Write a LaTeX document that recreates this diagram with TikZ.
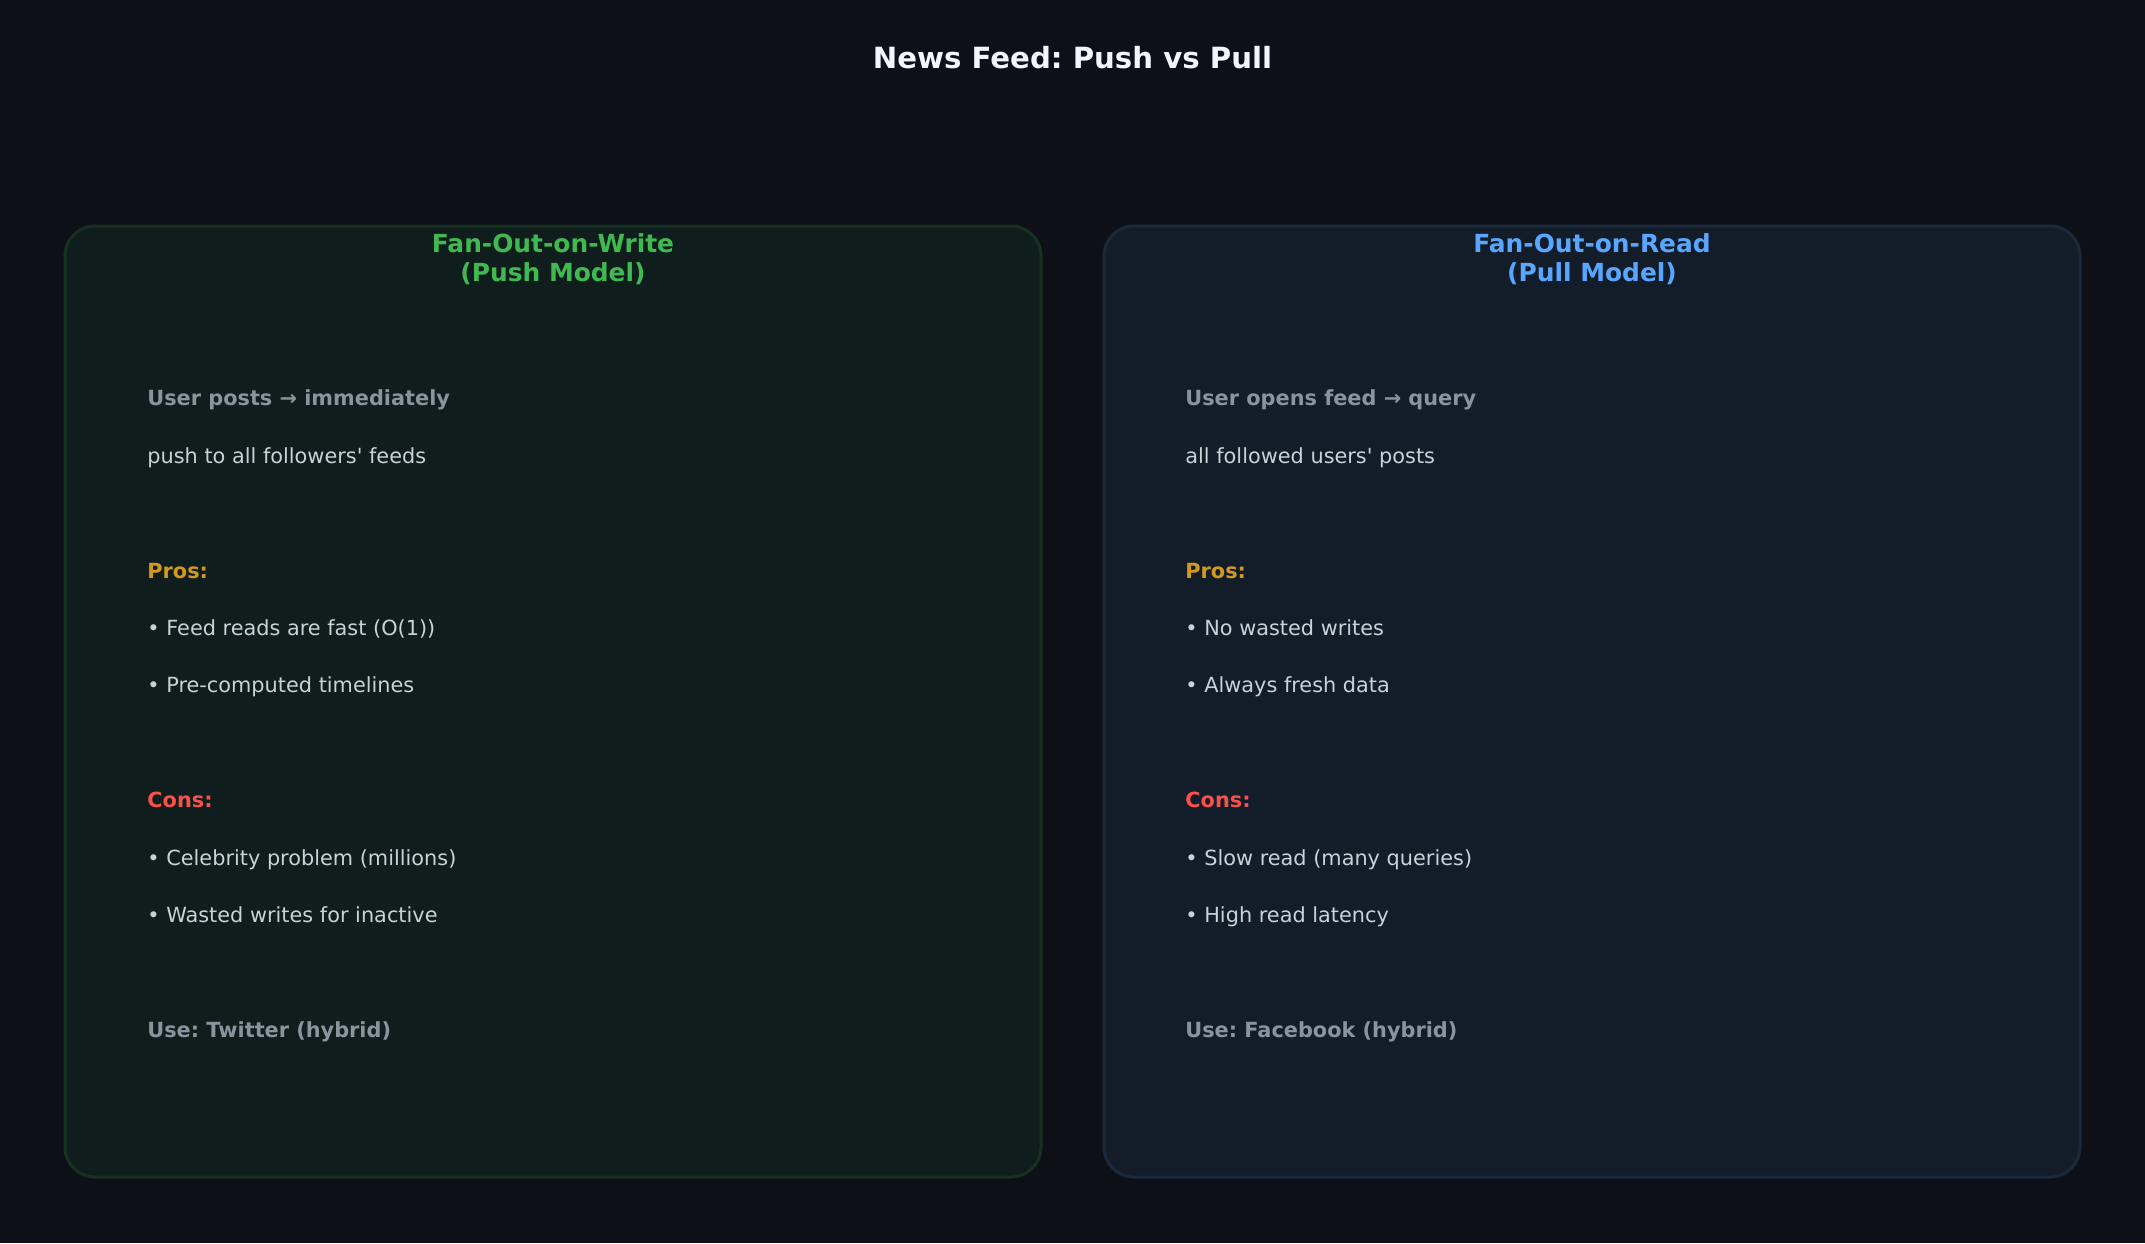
\documentclass[tikz,border=0pt]{standalone}
\usepackage{fontspec}
\setmainfont{DejaVu Sans}
\usetikzlibrary{positioning}
\frenchspacing

\definecolor{bgcol}{HTML}{0D1117}
\definecolor{pushfill}{HTML}{0F1D1C}
\definecolor{pushline}{HTML}{183022}
\definecolor{pullfill}{HTML}{131C29}
\definecolor{pullline}{HTML}{1B293B}
\definecolor{pushhead}{HTML}{3FB950}
\definecolor{pullhead}{HTML}{58A6FF}
\definecolor{prostxt}{HTML}{D29922}
\definecolor{constxt}{HTML}{F85149}
\definecolor{mutedtxt}{HTML}{8B949E}
\definecolor{bodytxt}{HTML}{C9D1D9}
\definecolor{titletxt}{HTML}{F0F6FC}

\begin{document}
\begin{tikzpicture}[
  x=0.5pt, y=-0.5pt,
  panel/.style={line width=1.5pt, rounded corners=15pt},
  head/.style={anchor=base, inner sep=0pt, font=\fontsize{12.45}{14}\selectfont\bfseries},
  txt/.style={anchor=base west, inner sep=0pt, font=\fontsize{10.42}{12}\selectfont, text=bodytxt},
  lead/.style={txt, font=\fontsize{10.42}{12}\selectfont\bfseries, text=mutedtxt},
  pros/.style={lead, text=prostxt},
  cons/.style={lead, text=constxt}
]
  % canvas
  \fill[bgcol] (0,0) rectangle (2145,1243);
  \useasboundingbox (0,0) rectangle (2145,1243);

  \node[anchor=base, inner sep=0pt, text=titletxt,
        font=\fontsize{14.6}{17}\selectfont\bfseries] (title) at (1072.5,68) {News Feed: Push vs Pull};

  % push panel
  \draw[panel, draw=pushline, fill=pushfill] (65,226) rectangle (1041,1177);
  \node[head, text=pushhead] (pushT1) at (553,252) {Fan-Out-on-Write};
  \node[head, text=pushhead] (pushT2) at (553,281) {(Push Model)};
  \node[lead] (pushA) at (147,405) {User posts → immediately};
  \node[txt]  (pushB) at (147,463) {push to all followers\textquotesingle{} feeds};
  \node[pros] (pushP) at (147,578) {Pros:};
  \node[txt]  (pushP1) at (147,635) {• Feed reads are fast (O(1))};
  \node[txt]  (pushP2) at (147,692) {• Pre-computed timelines};
  \node[cons] (pushC) at (147,807) {Cons:};
  \node[txt]  (pushC1) at (147,865) {• Celebrity problem (millions)};
  \node[txt]  (pushC2) at (147,922) {• Wasted writes for inactive};
  \node[lead] (pushU) at (147,1037) {Use: Twitter (hybrid)};

  % pull panel
  \draw[panel, draw=pullline, fill=pullfill] (1104,226) rectangle (2080,1177);
  \node[head, text=pullhead] (pullT1) at (1592,252) {Fan-Out-on-Read};
  \node[head, text=pullhead] (pullT2) at (1592,281) {(Pull Model)};
  \node[lead] (pullA) at (1185,405) {User opens feed → query};
  \node[txt]  (pullB) at (1185,463) {all followed users\textquotesingle{} posts};
  \node[pros] (pullP) at (1185,578) {Pros:};
  \node[txt]  (pullP1) at (1185,635) {• No wasted writes};
  \node[txt]  (pullP2) at (1185,692) {• Always fresh data};
  \node[cons] (pullC) at (1185,807) {Cons:};
  \node[txt]  (pullC1) at (1185,865) {• Slow read (many queries)};
  \node[txt]  (pullC2) at (1185,922) {• High read latency};
  \node[lead] (pullU) at (1185,1037) {Use: Facebook (hybrid)};
\end{tikzpicture}
\end{document}
